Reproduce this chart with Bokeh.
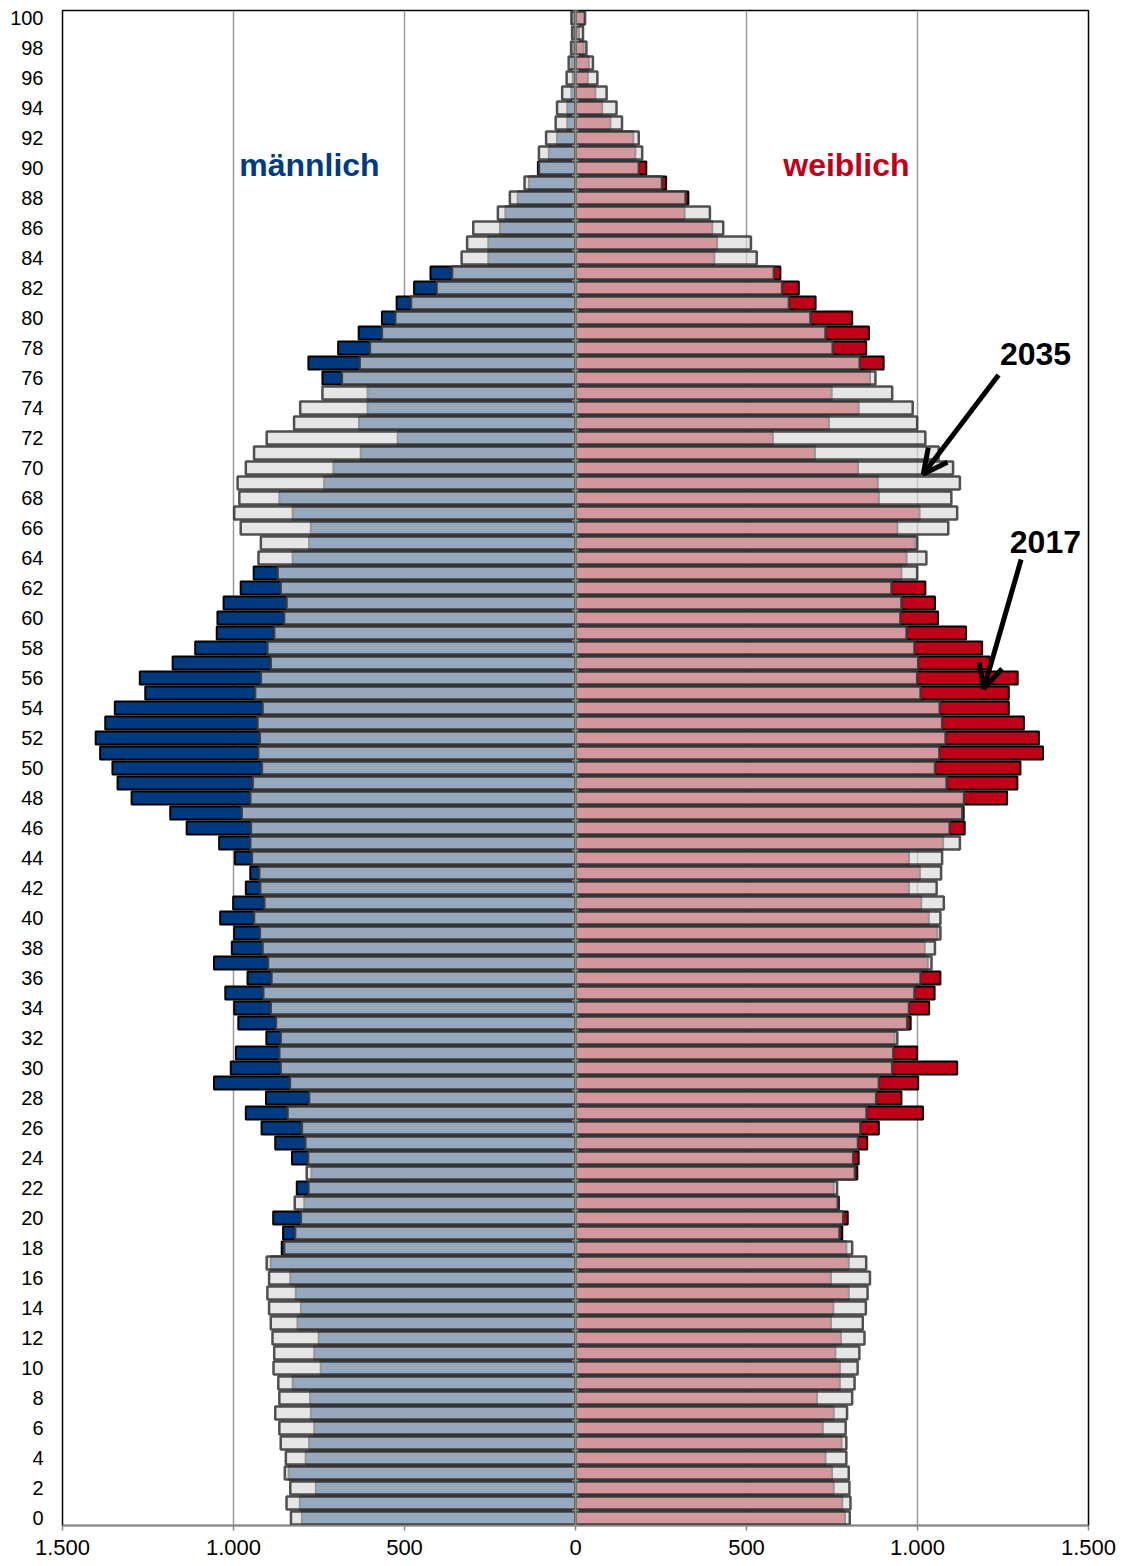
from bokeh.plotting import figure
from bokeh.models import ColumnDataSource, Label, Arrow, OpenHead, Span, FixedTicker
from bokeh.embed import file_html
from bokeh.resources import INLINE

ages = list(range(101))

male_2017 = [800, 806, 759, 839, 789, 779, 764, 774, 776, 827,
             745, 764, 751, 813, 803, 818, 834, 891, 859, 855,
             884, 793, 815, 772, 829, 878, 918, 964, 905, 1057,
             1008, 993, 904, 986, 998, 1024, 959, 1057, 1005, 998,
             1039, 1001, 964, 951, 996, 1042, 1137, 1185, 1298, 1339,
             1354, 1390, 1403, 1375, 1347, 1258, 1274, 1178, 1112, 1049,
             1047, 1029, 979, 941, 827, 779, 774, 827, 866, 735,
             708, 628, 520, 633, 608, 608, 740, 781, 694, 634,
             566, 523, 472, 424, 255, 255, 221, 205, 169, 136,
             110, 78, 54, 24, 24, 12, 8, 12, 7, 5, 8]

male_2035 = [832, 845, 834, 850, 847, 862, 866, 878, 866, 869,
             883, 881, 886, 891, 896, 901, 896, 903, 852, 820,
             803, 821, 781, 786, 782, 790, 800, 842, 779, 835,
             862, 866, 862, 876, 891, 913, 889, 899, 915, 923,
             940, 910, 922, 925, 946, 951, 949, 976, 951, 944,
             917, 928, 923, 930, 915, 937, 920, 891, 901, 881,
             852, 845, 862, 871, 927, 920, 979, 998, 983, 988,
             964, 940, 903, 823, 805, 740, 683, 631, 601, 566,
             527, 481, 406, 361, 333, 317, 299, 227, 192, 149,
             107, 107, 86, 58, 54, 39, 26, 20, 13, 10, 12]

female_2017 = [788, 780, 755, 750, 731, 778, 723, 755, 706, 773,
               773, 760, 776, 747, 754, 799, 747, 799, 792, 780,
               796, 770, 755, 824, 828, 853, 887, 1016, 953, 1002,
               1116, 999, 933, 980, 1034, 1050, 1067, 1030, 1021, 1058,
               1033, 1011, 975, 1007, 975, 1075, 1138, 1135, 1262, 1292,
               1301, 1367, 1355, 1311, 1267, 1267, 1293, 1211, 1189, 1142,
               1060, 1051, 1023, 953, 968, 992, 941, 1006, 887, 884,
               826, 700, 577, 741, 828, 749, 861, 901, 850, 858,
               809, 702, 653, 599, 406, 414, 400, 319, 330, 265,
               207, 175, 169, 102, 78, 58, 36, 39, 24, 10, 25]

female_2035 = [802, 804, 801, 799, 792, 792, 790, 794, 809, 816,
               825, 830, 845, 840, 849, 854, 861, 850, 809, 772,
               783, 767, 765, 817, 812, 826, 833, 851, 879, 887,
               926, 929, 941, 970, 975, 991, 1009, 1041, 1051, 1067,
               1067, 1077, 1056, 1069, 1072, 1124, 1094, 1131, 1136, 1085,
               1051, 1064, 1082, 1072, 1065, 1009, 999, 1002, 991, 968,
               950, 953, 924, 999, 1026, 999, 1090, 1116, 1099, 1124,
               1104, 1062, 1023, 999, 986, 926, 877, 831, 752, 731,
               687, 624, 604, 580, 530, 513, 432, 393, 322, 253,
               185, 195, 185, 136, 120, 91, 64, 51, 32, 22, 28]

x_ticks = [-1500, -1000, -500, 0, 500, 1000, 1500]
x_tick_labels = ["1.500", "1.000", "500", "0", "500", "1.000", "1.500"]
y_ticks = list(range(0, 101, 2))

FONT = "Liberation Sans"
DARK_BLUE = "#003a80"
DARK_RED = "#c00018"

src = ColumnDataSource(dict(
    age=ages,
    m17=[-v for v in male_2017],
    m35=[-v for v in male_2035],
    f17=female_2017,
    f35=female_2035,
))

p = figure(width=1118, height=1566,
           x_range=(-1500, 1500), y_range=(-0.5, 100.5),
           output_backend="svg", toolbar_location=None,
           min_border_left=62, min_border_right=30,
           min_border_top=10, min_border_bottom=41)

p.background_fill_color = "white"
p.border_fill_color = "white"
p.outline_line_color = "black"
p.outline_line_width = 1.5

p.xaxis.ticker = FixedTicker(ticks=x_ticks)
p.xaxis.major_label_overrides = {t: l for t, l in zip(x_ticks, x_tick_labels)}
p.xaxis.axis_line_color = "#888888"
p.xaxis.axis_line_width = 1.5
p.xaxis.major_tick_line_color = "#888888"
p.xaxis.major_tick_line_width = 1.5
p.xaxis.major_tick_out = 5
p.xaxis.major_tick_in = 0
p.xaxis.minor_tick_line_color = None
p.xaxis.major_label_standoff = 9
p.xaxis.major_label_text_font = FONT
p.xaxis.major_label_text_font_size = "22px"
p.xaxis.major_label_text_color = "black"

p.yaxis.ticker = FixedTicker(ticks=y_ticks)
p.yaxis.axis_line_color = None
p.yaxis.major_tick_line_color = None
p.yaxis.minor_tick_line_color = None
p.yaxis.major_tick_out = 0
p.yaxis.major_tick_in = 0
p.yaxis.major_label_standoff = 19
p.yaxis.major_label_text_font = FONT
p.yaxis.major_label_text_font_size = "20px"
p.yaxis.major_label_text_color = "black"

p.xgrid.ticker = FixedTicker(ticks=x_ticks)
p.xgrid.grid_line_color = "#9a9a9a"
p.xgrid.grid_line_width = 1.5
p.ygrid.grid_line_color = None

H = 0.88
# 2017 bars (dark)
p.hbar(y="age", left="m17", right=0, height=H, source=src,
       fill_color=DARK_BLUE, line_color="black", line_width=2)
p.hbar(y="age", left=0, right="f17", height=H, source=src,
       fill_color=DARK_RED, line_color="black", line_width=2)
# 2035 bars (translucent light grey on top)
p.hbar(y="age", left="m35", right=0, height=H, source=src,
       fill_color="#dbdbdb", fill_alpha=0.69,
       line_color="#333333", line_alpha=0.85, line_width=2.5)
p.hbar(y="age", left=0, right="f35", height=H, source=src,
       fill_color="#dbdbdb", fill_alpha=0.69,
       line_color="#333333", line_alpha=0.85, line_width=2.5)

# central axis with category tick marks
p.add_layout(Span(location=0, dimension="height", line_color="#888888", line_width=2))
bounds = [a - 0.5 for a in ages] + [ages[-1] + 0.5]
p.segment(x0=[-10] * len(bounds), x1=[10] * len(bounds), y0=bounds, y1=bounds,
          line_color="#888888", line_width=1.5)

p.add_layout(Label(x=-778, y=90.2, text="männlich", text_font=FONT,
                   text_font_style="bold", text_font_size="32px",
                   text_color=DARK_BLUE, text_align="center", text_baseline="middle"))
p.add_layout(Label(x=792, y=90.2, text="weiblich", text_font=FONT,
                   text_font_style="bold", text_font_size="32px",
                   text_color=DARK_RED, text_align="center", text_baseline="middle"))
p.add_layout(Label(x=1345, y=77.6, text="2035", text_font=FONT,
                   text_font_style="bold", text_font_size="32px",
                   text_color="black", text_align="center", text_baseline="middle"))
p.add_layout(Label(x=1374, y=65.1, text="2017", text_font=FONT,
                   text_font_style="bold", text_font_size="32px",
                   text_color="black", text_align="center", text_baseline="middle"))

p.add_layout(Arrow(end=OpenHead(size=24, line_width=5, line_color="black"),
                   x_start=1237, y_start=76.2, x_end=1017, y_end=69.6,
                   line_width=5, line_color="black"))
p.add_layout(Arrow(end=OpenHead(size=24, line_width=5, line_color="black"),
                   x_start=1303, y_start=63.9, x_end=1194, y_end=55.3,
                   line_width=5, line_color="black"))

open("out.html", "w").write(file_html(p, INLINE))
